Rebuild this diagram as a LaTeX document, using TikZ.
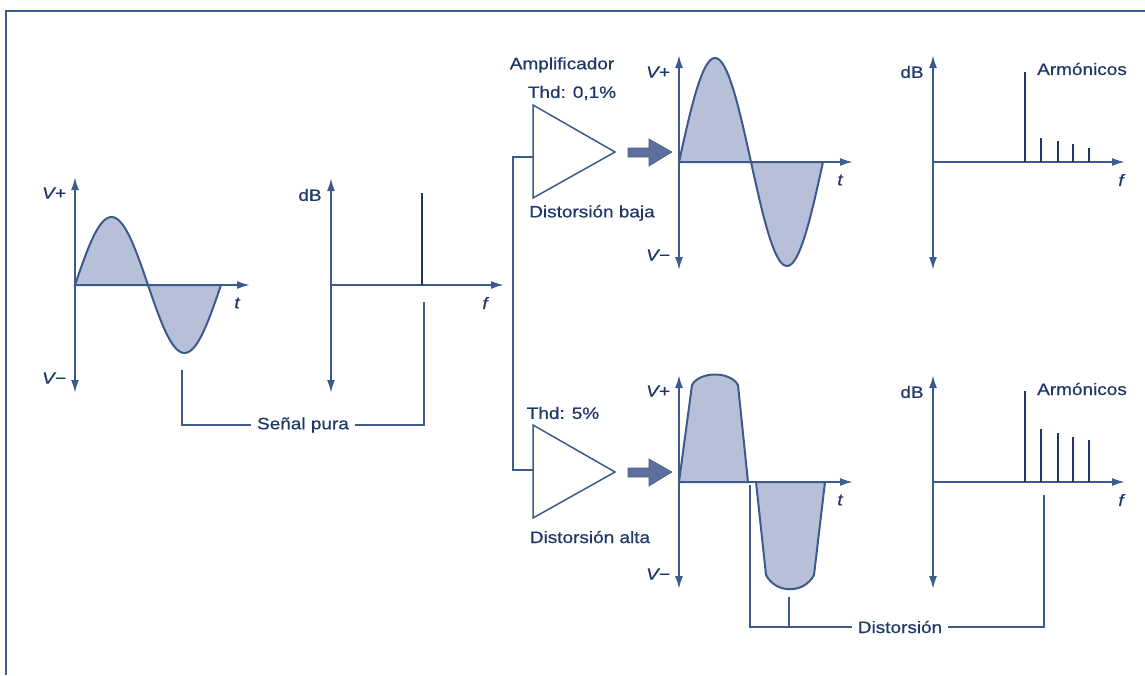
\documentclass[tikz,border=0pt]{standalone}
\usepackage{fontspec}
\setmainfont{Liberation Sans}[FakeStretch=1.15, FakeBold=0.6]
\usetikzlibrary{arrows.meta}

\begin{document}
\begin{tikzpicture}[x=1pt, y=-1pt, >={Latex[length=13pt,width=8pt]},
  every node/.style={font=\fontsize{16.5}{18}\selectfont, text=Ink, inner sep=0pt},
  axis/.style={line width=2pt, draw=Wire},
  wave/.style={line width=2pt, draw=Wire, fill=Shade},
  spike/.style={line width=2.8pt, draw=Ink},
  wire/.style={line width=1.5pt, draw=Wire},
  tag/.style={inner xsep=6pt},
  bigarrow/.style={fill=Push, draw=Push!80!black, line width=.6pt}]
\definecolor{Ink}{HTML}{1D3768}\definecolor{Wire}{HTML}{3D5A8C}\definecolor{Shade}{HTML}{B7C0D8}\definecolor{Push}{HTML}{5C6F9E}\definecolor{Frame}{HTML}{3A5F96}
\useasboundingbox (0,0) rectangle (1145,675);
\draw[Frame, line width=2pt] (6,675) -- (6,11) -- (1145,11);
% pure signal
\filldraw[wave] plot[domain=0:360, samples=80] ({75+\x/360*146}, {285-68*sin(\x)}) -- cycle;
\draw[axis, <->] (75,177) -- (75,393); \draw[axis, ->] (75,285) -- (250,285);
\node (vpA) at (54,193) {\itshape V+}; \node (vmA) at (54,378) {\itshape V−}; \node (tA) at (237,303) {\itshape t};
% pure spectrum
\draw[axis, <->] (331,178) -- (331,393); \draw[axis, ->] (331,285) -- (504,285);
\draw[spike] (422,193) -- (422,285);
\node (dbA) at (310,195) {dB}; \node (fA) at (485,303) {\itshape f};
\coordinate (sp1) at (182,370); \coordinate (sp2) at (424,302);
\node[tag] (lblSenal) at (303,425) {Señal pura};
\draw[wire] (sp1) |- (lblSenal.west); \draw[wire] (lblSenal.east) -| (sp2);
% amplifiers
\coordinate (brTop) at (513,157); \coordinate (brBot) at (513,470);
\coordinate (ampAin) at (533,157); \coordinate (ampBin) at (533,470);
\draw[wire] (ampAin) -- (brTop) -- (brBot) -- (ampBin);
\draw[wire, fill=white] (533,105) -- (615,152) -- (533,198) -- cycle;
\draw[wire, fill=white] (533,425) -- (615,472) -- (533,518) -- cycle;
\node (lblAmp) at (562,65) {Amplificador}; \node (lblThdA) at (572,93) {Thd: 0,1\%};
\node (lblBaja) at (592,213) {Distorsión baja};
\node (lblThdB) at (563,413) {Thd: 5\%}; \node (lblAlta) at (590,537) {Distorsión alta};
\foreach \y in {152,472}
  \draw[bigarrow] (628,\y-4) -- (649,\y-4) -- (649,\y-13) -- (672,\y) -- (649,\y+14) -- (649,\y+5) -- (628,\y+5) -- cycle;
% low distortion output
\filldraw[wave] plot[domain=0:360, samples=80] ({679+\x/360*144}, {162-104*sin(\x)}) -- cycle;
\draw[axis, <->] (679,55) -- (679,270); \draw[axis, ->] (679,162) -- (853,162);
\node (vpB) at (658,72) {\itshape V+}; \node (vmB) at (658,255) {\itshape V−}; \node (tB) at (840,180) {\itshape t};
% high distortion output
\filldraw[wave] (679,482) -- (692,385) .. controls (700,371) and (730,371) .. (738,385) -- (748,482) -- cycle;
\filldraw[wave] (756,482) -- (766,575) .. controls (776,594) and (804,594) .. (814,575) -- (825,482) -- cycle;
\draw[axis, <->] (679,375) -- (679,589); \draw[axis, ->] (679,482) -- (853,482);
\node (vpC) at (658,391) {\itshape V+}; \node (vmC) at (658,574) {\itshape V−}; \node (tC) at (840,500) {\itshape t};
% spectra with harmonics
\draw[axis, <->] (933,55) -- (933,270); \draw[axis, ->] (933,162) -- (1125,162);
\foreach \x/\h in {1025/72,1041/138,1058/141,1073/144,1089/148} \draw[spike] (\x,\h) -- (\x,162);
\node (dbB) at (912,72) {dB}; \node (armA) at (1082,69) {Armónicos}; \node (fB) at (1121,180) {\itshape f};
\draw[axis, <->] (933,375) -- (933,589); \draw[axis, ->] (933,482) -- (1125,482);
\foreach \x/\h in {1025/391,1041/429,1058/433,1073/437,1089/440} \draw[spike] (\x,\h) -- (\x,482);
\node (dbC) at (912,392) {dB}; \node (armB) at (1082,389) {Armónicos}; \node (fC) at (1121,500) {\itshape f};
% distortion bracket
\coordinate (d1) at (750,485); \coordinate (d2) at (789,597); \coordinate (d3) at (1044,495);
\node[tag] (lblDist) at (900,627) {Distorsión};
\draw[wire] (d1) |- (lblDist.west); \draw[wire] (d2) -- (d2 |- lblDist.west); \draw[wire] (lblDist.east) -| (d3);
\end{tikzpicture}
\end{document}
